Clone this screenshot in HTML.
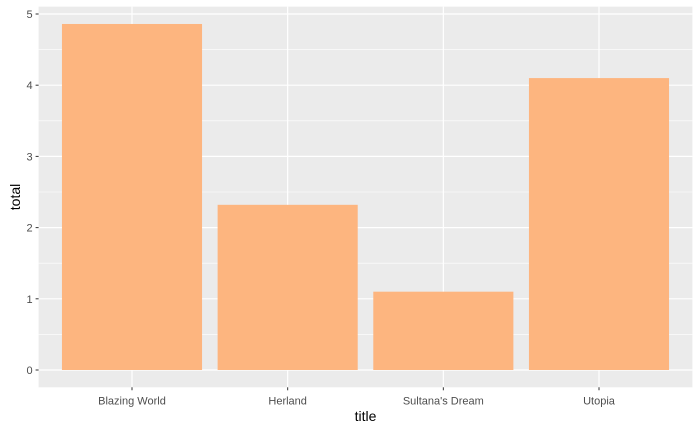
<!DOCTYPE html>
<html><head><meta charset="utf-8"><style>
body{margin:0;background:#fff;}
svg{display:block;font-family:"Liberation Sans",Arial,sans-serif;}
</style></head><body>
<svg id="chart" width="700" height="432"></svg>
<script>
const categories=["Blazing World","Herland","Sultana's Dream","Utopia"];
const totals=[4.86,2.32,1.10,4.10];
const yTicks=[0,1,2,3,4,5];
const NS="http://www.w3.org/2000/svg";
const svg=document.getElementById('chart');
const pl=38.6,pr=692.4;
const step=(pr-pl)/(categories.length+0.2);
const x=i=>pl+step*(0.6+i);
const y0=370,unit=71.2;
const y=v=>y0-v*unit;
const maxV=Math.max(...totals);
const pt=y(maxV*1.05), pb=y(-maxV*0.05);
function mk(t,a,p){const e=document.createElementNS(NS,t);for(const k in a)e.setAttribute(k,a[k]);(p||svg).appendChild(e);return e;}
const panel=mk('rect',{x:pl,y:pt,width:pr-pl,height:pb-pt,fill:'#EBEBEB'});


for(let i=0;i<yTicks.length-1;i++){const v=(yTicks[i]+yTicks[i+1])/2;
 const g=mk('line',{x1:pl,x2:pr,y1:y(v),y2:y(v),stroke:'#fff','stroke-width':0.6});
 
 }
yTicks.forEach(v=>{
 const g=mk('line',{x1:pl,x2:pr,y1:y(v),y2:y(v),stroke:'#fff','stroke-width':1.2});
 
 
 const tk=mk('line',{x1:pl-3,x2:pl,y1:y(v),y2:y(v),stroke:'#333','stroke-width':1});
 
 
 const t=mk('text',{x:pl-6,y:y(v)+4,'text-anchor':'end','font-size':11,fill:'#4D4D4D'});
 t.textContent=v;
 
 
});
categories.forEach((c,i)=>{
 const g=mk('line',{x1:x(i),x2:x(i),y1:pt,y2:pb,stroke:'#fff','stroke-width':1.2});
 
 
});
categories.forEach((c,i)=>{
 const w=step*0.9;
 const b=mk('rect',{x:x(i)-w/2,y:y(totals[i]),width:w,height:y(0)-y(totals[i]),fill:'#FDB57F'});
 
 
 const tk=mk('line',{x1:x(i),x2:x(i),y1:pb,y2:pb+3,stroke:'#333','stroke-width':1});
 
 
 const t=mk('text',{x:x(i),y:pb+17,'text-anchor':'middle','font-size':11,fill:'#4D4D4D'});
 t.textContent=c;
 
 
});
const xt=mk('text',{x:(pl+pr)/2,y:421,'text-anchor':'middle','font-size':14,fill:'#000'});
xt.textContent='title';


const yt=mk('text',{x:0,y:0,'text-anchor':'middle','font-size':14,fill:'#000',transform:`translate(20,${(pt+pb)/2}) rotate(-90)`});
yt.textContent='total';


</script>
</body></html>
